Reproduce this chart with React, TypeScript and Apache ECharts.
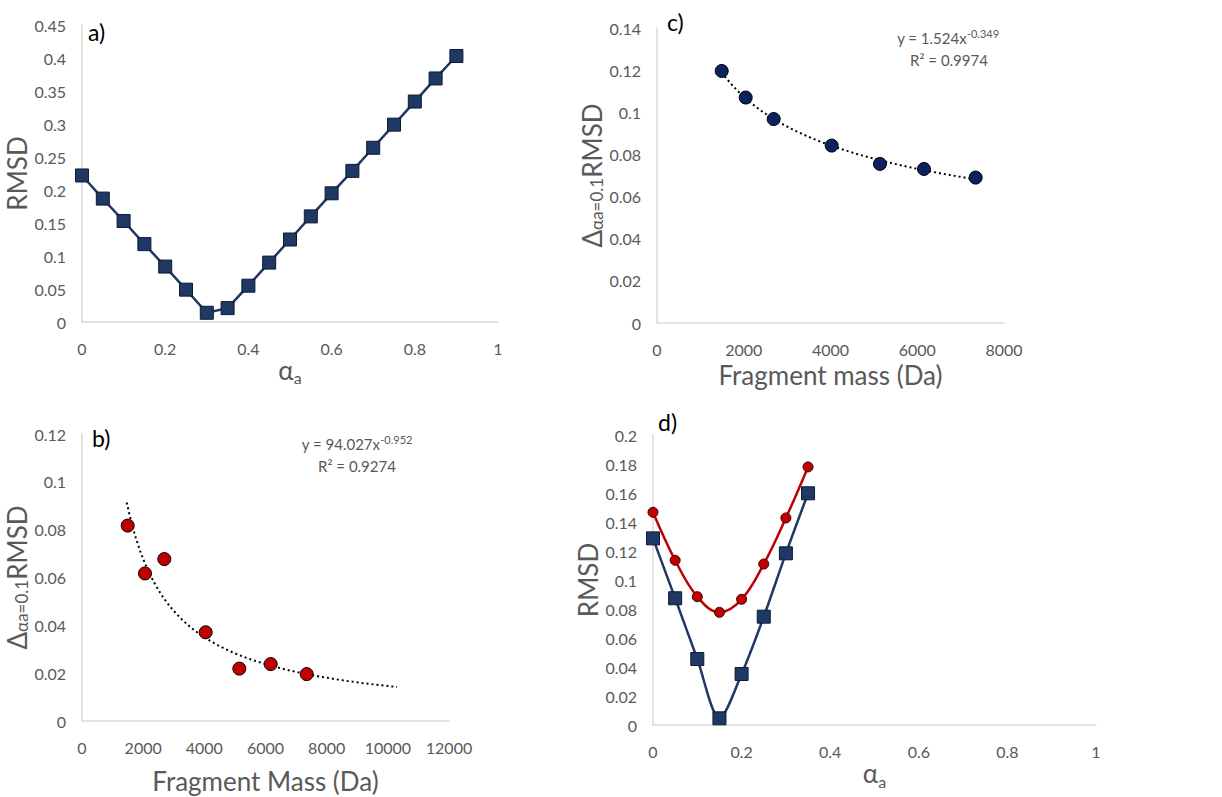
import React, { useEffect, useRef } from "react";
import * as echarts from "echarts";

// Panel a
const alphaA = [0, 0.05, 0.1, 0.15, 0.2, 0.25, 0.3, 0.35, 0.4, 0.45, 0.5, 0.55, 0.6, 0.65, 0.7, 0.75, 0.8, 0.85, 0.9];
const rmsdA = [0.222, 0.187, 0.153, 0.118, 0.084, 0.049, 0.014, 0.021, 0.055, 0.09, 0.125, 0.16, 0.195, 0.229, 0.264, 0.299, 0.334, 0.369, 0.403];

// Panel b
const massB = [1494, 2060, 2692, 4044, 5144, 6170, 7347];
const deltaB = [0.0817, 0.0617, 0.0677, 0.0371, 0.0219, 0.0238, 0.0196];
const fitB = { a: 94.027, b: -0.952, from: 1460, to: 10300 };

// Panel c
const massC = [1492, 2045, 2690, 4027, 5140, 6155, 7346];
const deltaC = [0.1196, 0.107, 0.0968, 0.0842, 0.0755, 0.0731, 0.069];
const fitC = { a: 1.524, b: -0.349, from: 1492, to: 7346 };

// Panel d
const alphaD = [0, 0.05, 0.1, 0.15, 0.2, 0.25, 0.3, 0.35];
const rmsdDRed = [0.1467, 0.1136, 0.0885, 0.0777, 0.0867, 0.111, 0.1428, 0.178];
const rmsdDBlue = [0.1287, 0.0874, 0.0455, 0.0046, 0.0352, 0.0747, 0.1184, 0.1598];

const FONT = "Lato";
const GRAY = "#595959";
const NAVY = "#1f3864";
const NAVY2 = "#0b2160";
const RED = "#c00000";

function trend(f: { a: number; b: number; from: number; to: number }) {
  const pts: number[][] = [];
  const n = 60;
  for (let i = 0; i <= n; i++) {
    const x = f.from + ((f.to - f.from) * i) / n;
    pts.push([x, f.a * Math.pow(x, f.b)]);
  }
  return pts;
}

const zip = (xs: number[], ys: number[]) => xs.map((x, i) => [x, ys[i]]);

const axisLine = { show: true, lineStyle: { color: "#d9d9d9", width: 1.5 } };
const axisLabel = { color: GRAY, fontSize: 16, fontFamily: FONT, formatter: (v: number) => String(v) };

function xAxis(gridIndex: number, max: number, interval: number, name: string, rich: any, nameGap: number) {
  return {
    type: "value",
    gridIndex,
    min: 0,
    max,
    interval,
    axisLine,
    axisTick: { show: false },
    splitLine: { show: false },
    axisLabel: { ...axisLabel, margin: 18 },
    name,
    nameLocation: "middle",
    nameGap,
    nameTextStyle: { color: GRAY, fontFamily: FONT, rich },
  };
}

function yAxis(gridIndex: number, max: number, interval: number, name: string, rich: any, nameGap: number) {
  return {
    type: "value",
    gridIndex,
    min: 0,
    max,
    interval,
    axisLine,
    axisTick: { show: false },
    splitLine: { show: false },
    axisLabel: { ...axisLabel, margin: 16 },
    name,
    nameLocation: "middle",
    nameRotate: 90,
    nameGap,
    nameTextStyle: { color: GRAY, fontFamily: FONT, rich },
  };
}

const alphaRich = {
  g: { fontSize: 26, lineHeight: 32, color: GRAY, fontFamily: FONT },
  s: { fontSize: 16, lineHeight: 16, verticalAlign: "bottom", color: GRAY, fontFamily: FONT },
};
const plainRich = {
  g: { fontSize: 26, lineHeight: 32, color: GRAY, fontFamily: FONT },
};
const deltaRich = {
  g: { fontSize: 26, lineHeight: 26, verticalAlign: "top", color: GRAY, fontFamily: FONT },
  s: { fontSize: 17, lineHeight: 17, padding: [16, 0, 0, 0], verticalAlign: "bottom", color: GRAY, fontFamily: FONT },
};
const eqRich = {
  m: { fontSize: 15, lineHeight: 20, fill: GRAY, fontFamily: FONT, fontWeight: "normal" },
  p: { fontSize: 11, lineHeight: 11, verticalAlign: "top", fill: GRAY, fontFamily: FONT, fontWeight: "normal" },
};

export default function App() {
  const ref = useRef<HTMLDivElement>(null);
  useEffect(() => {
    document.body.style.margin = "0";
    const chart = echarts.init(ref.current!, null, { renderer: "svg" });
    const option: any = {
      animation: false,
      backgroundColor: "#ffffff",
      grid: [
        { left: 82, top: 25, width: 416, height: 297, outerBoundsMode: "none", containLabel: false },
        { left: 82, top: 434, width: 367, height: 287, outerBoundsMode: "none", containLabel: false },
        { left: 657, top: 28, width: 347, height: 295, outerBoundsMode: "none", containLabel: false },
        { left: 653, top: 435, width: 443, height: 290, outerBoundsMode: "none", containLabel: false },
      ],
      xAxis: [
        xAxis(0, 1, 0.2, "{g|α}{s|a}", alphaRich, 31),
        xAxis(1, 12000, 2000, "{g|Fragment Mass (Da)}", plainRich, 44),
        xAxis(2, 8000, 2000, "{g|Fragment mass (Da)}", plainRich, 36),
        xAxis(3, 1, 0.2, "{g|α}{s|a}", alphaRich, 32),
      ],
      yAxis: [
        yAxis(0, 0.45, 0.05, "{g|RMSD}", plainRich, 47),
        yAxis(1, 0.12, 0.02, "{g|Δ}{s|αa=0.1}{g|RMSD}", deltaRich, 44),
        yAxis(2, 0.14, 0.02, "{g|Δ}{s|αa=0.1}{g|RMSD}", deltaRich, 46),
        yAxis(3, 0.2, 0.02, "{g|RMSD}", plainRich, 45),
      ],
      series: [
        {
          type: "line",
          xAxisIndex: 0,
          yAxisIndex: 0,
          data: zip(alphaA, rmsdA),
          symbol: "rect",
          symbolSize: 13,
          lineStyle: { color: NAVY, width: 2.5 },
          itemStyle: { color: NAVY, borderColor: "#0d1a33", borderWidth: 1 },
        },
        {
          type: "line",
          xAxisIndex: 1,
          yAxisIndex: 1,
          data: trend(fitB),
          symbol: "none",
          lineStyle: { color: "#000", width: 2, type: [2, 3] },
          z: 1,
        },
        {
          type: "scatter",
          xAxisIndex: 1,
          yAxisIndex: 1,
          data: zip(massB, deltaB),
          symbol: "circle",
          symbolSize: 13,
          itemStyle: { color: RED, borderColor: "#000", borderWidth: 1, opacity: 1 },
          z: 3,
        },
        {
          type: "line",
          xAxisIndex: 2,
          yAxisIndex: 2,
          data: trend(fitC),
          symbol: "none",
          lineStyle: { color: "#000", width: 2, type: [2, 3] },
          z: 1,
        },
        {
          type: "scatter",
          xAxisIndex: 2,
          yAxisIndex: 2,
          data: zip(massC, deltaC),
          symbol: "circle",
          symbolSize: 13,
          itemStyle: { color: NAVY2, borderColor: "#000", borderWidth: 1, opacity: 1 },
          z: 3,
        },
        {
          type: "line",
          xAxisIndex: 3,
          yAxisIndex: 3,
          data: zip(alphaD, rmsdDBlue),
          smooth: 0.3,
          symbol: "rect",
          symbolSize: 13,
          lineStyle: { color: NAVY, width: 2.5 },
          itemStyle: { color: NAVY, borderColor: "#0d1a33", borderWidth: 1 },
        },
        {
          type: "line",
          xAxisIndex: 3,
          yAxisIndex: 3,
          data: zip(alphaD, rmsdDRed),
          smooth: 0.4,
          symbol: "circle",
          symbolSize: 10,
          lineStyle: { color: RED, width: 2.5 },
          itemStyle: { color: RED, borderColor: "#3a0000", borderWidth: 1 },
        },
      ],
      graphic: [
        { type: "text", left: 88, top: 20, style: { text: "a)", fontSize: 23, fontFamily: FONT, fill: "#000" } },
        { type: "text", left: 92, top: 426, style: { text: "b)", fontSize: 23, fontFamily: FONT, fill: "#000" } },
        { type: "text", left: 667, top: 10, style: { text: "c)", fontSize: 23, fontFamily: FONT, fill: "#000" } },
        { type: "text", left: 658, top: 410, style: { text: "d)", fontSize: 23, fontFamily: FONT, fill: "#000" } },
        {
          type: "text",
          x: 357,
          y: 434,
          style: { text: "{m|y = 94.027x}{p|-0.952}", rich: eqRich, align: "center", fill: GRAY },
        },
        { type: "text", x: 357, y: 458, style: { text: "R² = 0.9274", fontSize: 15, fontFamily: FONT, fill: GRAY, align: "center" } },
        {
          type: "text",
          x: 948,
          y: 28,
          style: { text: "{m|y = 1.524x}{p|-0.349}", rich: eqRich, align: "center", fill: GRAY },
        },
        { type: "text", x: 949, y: 52, style: { text: "R² = 0.9974", fontSize: 15, fontFamily: FONT, fill: GRAY, align: "center" } },
      ],
    };
    chart.setOption(option);
    return () => chart.dispose();
  }, []);
  return <div ref={ref} style={{ width: 1222, height: 797 }} />;
}
